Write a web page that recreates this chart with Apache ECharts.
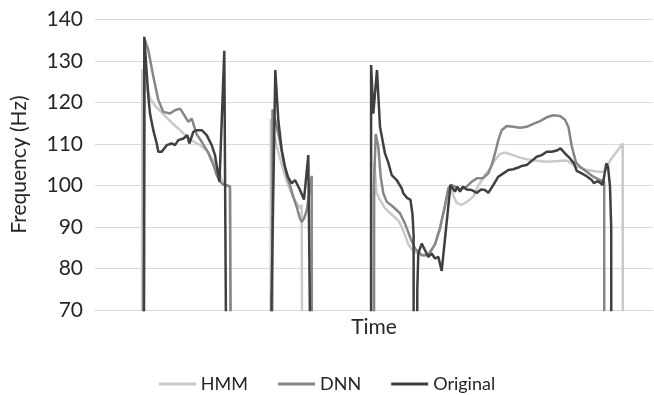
<!DOCTYPE html>
<html>
<head>
<meta charset="utf-8">
<script src="https://cdn.jsdelivr.net/npm/echarts@6/dist/echarts.min.js"></script>
<style>html,body{margin:0;padding:0;background:#fff}#c{width:654px;height:395px}</style>
</head>
<body>
<div id="c"></div>
<script>
// Tick labels of the y axis
const yTicks = [70, 80, 90, 100, 110, 120, 130, 140];
const seriesNames = ['HMM', 'DNN', 'Original'];

// Time index (frames) and frequency (Hz); 0 = unvoiced
const hmmT = [47,47.2,50,55,60,67,75,85,95,105,112,118,123,126,128.5,135,136.5,
  175.7,175.8,179,181.7,185,188.3,191.7,195,198.3,201.7,205,206.7,207.5,207.7,
  279,279.2,281.7,285,290,296.7,303.3,306.7,310,313.3,318.3,325,330,335,340,345,350,353.3,355.5,358.3,361.7,366.7,371.7,378.3,383,390,395,400,405,410,418.3,425,435,451.7,471.7,480,491.7,503.3,510,515,521.7,527.7,527.9];
const hmmV = [0,128,124.5,121,119.2,117.5,115.5,113.3,111,109.7,108.3,106,104,102,100.3,99.5,0,
  0,116,112.5,109.5,106.5,103.7,101,98.9,97,95.7,94.5,95.3,95,0,
  0,105.7,98.1,96.5,94.5,93,91.5,90,88,85.8,84.2,83.4,83,83.7,86,90,94.8,98.9,99.6,97.5,95.8,95.3,96,97.3,99.8,102.5,104.1,106.1,107.6,107.9,107.3,106.7,106.1,105.7,106,104.7,103.7,103.3,103.3,106,108.1,110.1,0];

const dnnT = [48.6,49.6,53.3,58.3,63.3,68.3,75,80,85,88.3,93.3,96.7,101.7,106.7,113,118.3,121.7,125,128.3,135,136.7,136.8,
  177,177.5,180,185,188.3,191.7,195,198.3,201.7,205,206.7,209,211.7,213.5,215,216.7,216.8,
  278.8,279,280.7,283.3,285.7,288.3,291.7,298.3,305,310,315,320,326.7,333.3,340,345,350,353.3,356,360,365,371.7,376.7,381.7,388.3,393.3,396.7,400,403.3,406.7,411.7,418.3,425,431.7,438.3,445,451.7,458.3,465,470,473.5,476.7,481,485,491.7,498.3,505,509.2,509.3];
const dnnV = [0,135.3,132.6,126.2,120.6,117.7,117.3,118.1,118.5,117.3,115.3,116.1,112.3,110.5,108,105,102.5,100.9,100.2,99.8,99.6,0,
  0,118.3,116,110.5,106,102.5,100,97.3,94.8,92,91.2,92,94,97,99.5,102.3,0,
  0,100,112.4,109.3,102.1,98.1,96.1,94.8,93.3,90.8,87.6,84.8,83.2,83.3,85.8,89.6,95.2,99.3,100.1,99.7,98.9,99.7,100.9,101.7,101.8,102.9,104.9,107.7,110.9,113.3,114.3,114.1,113.9,114.1,114.8,115.5,116.4,116.9,116.7,115.8,114,109.5,105.5,104.5,103.3,102.1,101.3,100.9,0];

const origT = [48.3,49.3,51.7,53.5,55,58.3,61.7,63.3,66.7,71.7,76.7,80,83.3,88.3,92.3,94.3,96,98.3,101.7,106.7,111.7,116.7,120,122.5,124.5,129.3,131,131.1,
  176.3,176.5,180.3,183.3,186.7,190,193,196.7,200,201.7,205,209,213.3,214.5,215.3,215.4,
  276,276.1,278.3,282,285,290,293.3,296.7,301.7,303.3,306.7,308.3,312,315.5,317.5,318.6,318.8,321.8,322.3,323.3,326.7,330,333.3,336.7,340,343.3,346.7,355.5,360,362.3,365,367.7,371.7,376.7,381.7,386,390,393.3,398.3,403.3,408.3,413.3,418.3,423.3,426.7,431.7,436.7,441.7,446.7,451.7,456.7,461.7,465.5,470,475,479,481.7,486.7,491.7,496.7,499,502,505,507.7,511.3,513,515,516.2,516.5];
const origV = [0,135.8,127,121,117.3,113.3,110.1,108.1,108.1,109.7,110.1,109.7,110.9,111.3,112.1,110.1,110.5,112.9,113.3,113.3,112.1,109.7,107.3,103.5,100.9,132.4,65,0,
  0,72,127.8,115.7,108.6,104.5,102,100.5,101.3,101.3,98.9,96.6,107.3,107.5,60,0,
  0,129,117.3,127.8,114.1,107.7,105.5,102.5,101.3,100.9,99.3,98.1,97,96.5,93,88,0,0,75,83.6,86,84.4,82.8,83.6,82.4,82.8,79.4,100.1,98.5,99.7,98.5,99.7,99,98.9,98.2,99,98.9,98.2,100.1,102.1,102.9,103.7,103.9,104.3,104.7,104.9,105.9,106.9,107.3,108.1,108.1,108.4,108.9,107.7,106.5,105.3,103.5,102.9,102.2,101.3,100.5,101,100.7,100.1,105.3,104.5,99.7,90,0];

const pairs = (t, v) => t.map((x, i) => [x, v[i]]);
const colors = ['#c9c9c9', '#868686', '#404040'];
const FONT = 'Lato';
const TXT = '#262626';

const chart = echarts.init(document.getElementById('c'), null, {renderer: 'canvas'});
chart.setOption({
  animation: false,
  textStyle: {fontFamily: FONT},
  grid: {left: 95, right: 1, top: 19.3, bottom: 85},
  legend: {
    data: seriesNames,
    bottom: 2,
    left: 'center',
    itemGap: 30,
    itemWidth: 37,
    itemHeight: 3,
    icon: 'rect',
    padding: 0,
    textStyle: {fontSize: 18, color: TXT, fontFamily: FONT, padding: [0, 0, 0, 0]}
  },
  xAxis: {
    type: 'value', min: 0, max: 558,
    name: 'Time', nameLocation: 'middle', nameGap: 7,
    nameTextStyle: {fontSize: 21, color: TXT, fontFamily: FONT},
    axisLabel: {show: false}, axisTick: {show: false}, splitLine: {show: false},
    axisLine: {lineStyle: {color: '#d9d9d9', width: 1}}
  },
  yAxis: {
    type: 'value', min: yTicks[0], max: yTicks[yTicks.length - 1], interval: 10,
    name: 'Frequency (Hz)', nameLocation: 'middle', nameGap: 65,
    nameTextStyle: {fontSize: 21, color: TXT, fontFamily: FONT},
    axisLabel: {fontSize: 21, color: TXT, margin: 12, fontFamily: FONT},
    axisTick: {show: false}, axisLine: {show: false},
    splitLine: {lineStyle: {color: '#d9d9d9', width: 1}}
  },
  series: [
    {name: 'HMM', type: 'line', data: pairs(hmmT, hmmV), symbol: 'none', clip: true,
     lineStyle: {color: colors[0], width: 2.5}, itemStyle: {color: colors[0]}},
    {name: 'DNN', type: 'line', data: pairs(dnnT, dnnV), symbol: 'none', clip: true,
     lineStyle: {color: colors[1], width: 2.5}, itemStyle: {color: colors[1]}},
    {name: 'Original', type: 'line', data: pairs(origT, origV), symbol: 'none', clip: true,
     lineStyle: {color: colors[2], width: 2.5}, itemStyle: {color: colors[2]}}
  ]
});
</script>
</body>
</html>
